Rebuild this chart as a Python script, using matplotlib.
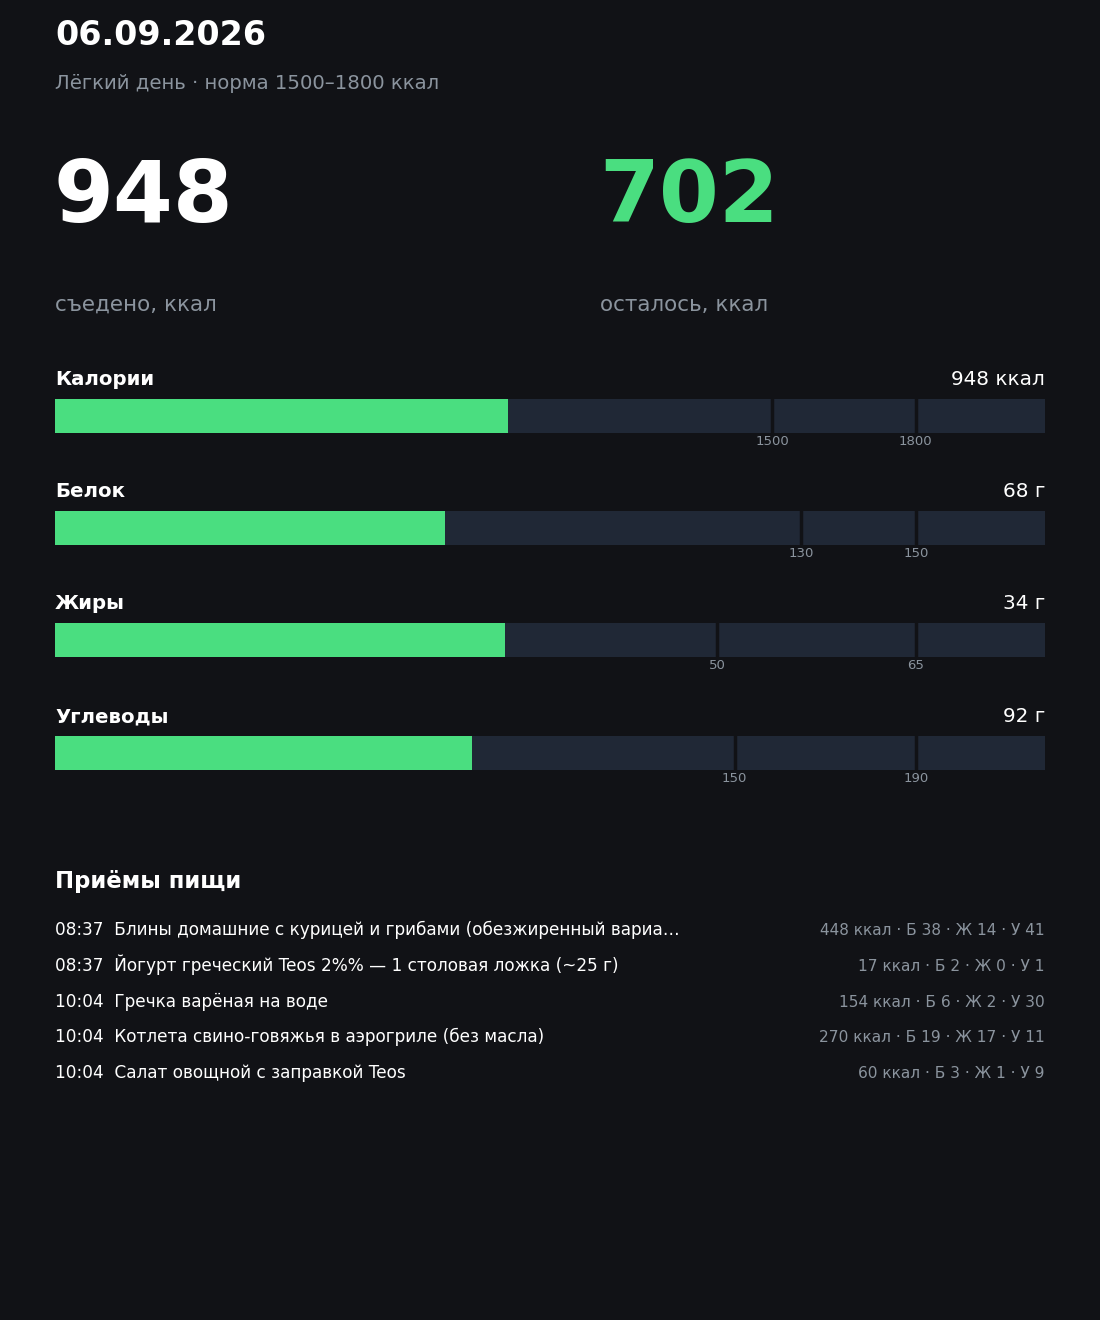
import matplotlib.pyplot as plt

# canvas in pixels
W, H = 1100, 1320
BG = '#111216'
TRACK = '#202836'
GREEN = '#4ade80'
WHITE = '#ffffff'
GRAY = '#8b949e'

# data
date_label = '06.09.2026'
subtitle = 'Лёгкий день · норма 1500–1800 ккал'
eaten = 948
remaining = 702

nutrients = ['Калории', 'Белок', 'Жиры', 'Углеводы']
units = ['ккал', 'г', 'г', 'г']
values = [948, 68, 34, 92]
lower = [1500, 130, 50, 150]
upper = [1800, 150, 65, 190]

meal_times = ['08:37', '08:37', '10:04', '10:04', '10:04']
meal_names = ['Блины домашние с курицей и грибами (обезжиренный вариа…',
              'Йогурт греческий Teos 2%% — 1 столовая ложка (~25 г)',
              'Гречка варёная на воде',
              'Котлета свино-говяжья в аэрогриле (без масла)',
              'Салат овощной с заправкой Teos']
meal_kcal = [448, 17, 154, 270, 60]
meal_p = [38, 2, 6, 19, 3]
meal_f = [14, 0, 2, 17, 1]
meal_c = [41, 1, 30, 11, 9]

plt.rcParams['font.family'] = ['DejaVu Sans']


def fx(x):
    return x / W


def fy(y):
    return 1 - y / H


fig = plt.figure(figsize=(W / 100, H / 100), dpi=100, facecolor=BG)

# header
fig.text(fx(55), fy(45), date_label, color=WHITE, fontsize=24, fontweight='bold', va='baseline')
fig.text(fx(55), fy(89), subtitle, color=GRAY, fontsize=14.2, va='baseline')

fig.text(fx(54), fy(222), str(eaten), color=WHITE, fontsize=62, fontweight='bold', va='baseline')
fig.text(fx(599), fy(222), str(remaining), color=GREEN, fontsize=62, fontweight='bold', va='baseline')
fig.text(fx(55), fy(311), 'съедено, ккал', color=GRAY, fontsize=15.5, va='baseline')
fig.text(fx(600), fy(311), 'осталось, ккал', color=GRAY, fontsize=15.5, va='baseline')

# progress bars
bar_tops = [399, 511, 623, 736]
for i in range(len(nutrients)):
    top = bar_tops[i]
    vmax = upper[i] * 1.15
    fig.text(fx(55), fy(top - 14), nutrients[i], color=WHITE, fontsize=14.2,
             fontweight='bold', va='baseline')
    fig.text(fx(1045), fy(top - 14), f'{values[i]} {units[i]}', color=WHITE,
             fontsize=14.4, ha='right', va='baseline')

    ax = fig.add_axes([fx(55), fy(top + 34), 990 / W, 34 / H])
    ax.set_facecolor(BG)
    ax.barh(0, vmax, height=1, color=TRACK)
    ax.barh(0, values[i], height=1, color=GREEN)
    for t in (lower[i], upper[i]):
        ax.axvline(t, color=BG, lw=2.5)
    ax.set_xlim(0, vmax)
    ax.set_ylim(-0.5, 0.5)
    ax.set_xticks([lower[i], upper[i]])
    ax.set_xticklabels([str(lower[i]), str(upper[i])])
    ax.tick_params(axis='x', length=0, pad=1.5, labelsize=9.5, labelcolor=GRAY)
    ax.set_yticks([])
    for s in ax.spines.values():
        s.set_visible(False)

# meals
fig.text(fx(55), fy(888), 'Приёмы пищи', color=WHITE, fontsize=16.4, fontweight='bold', va='baseline')
row_y = 935
for i in range(len(meal_names)):
    fig.text(fx(55), fy(row_y), f'{meal_times[i]}  {meal_names[i]}', color=WHITE,
             fontsize=12.15, va='baseline')
    fig.text(fx(1045), fy(row_y),
             f'{meal_kcal[i]} ккал · Б {meal_p[i]} · Ж {meal_f[i]} · У {meal_c[i]}',
             color=GRAY, fontsize=11.05, ha='right', va='baseline')
    row_y += 35.8

fig.savefig('out.png', dpi=100, facecolor=BG)
